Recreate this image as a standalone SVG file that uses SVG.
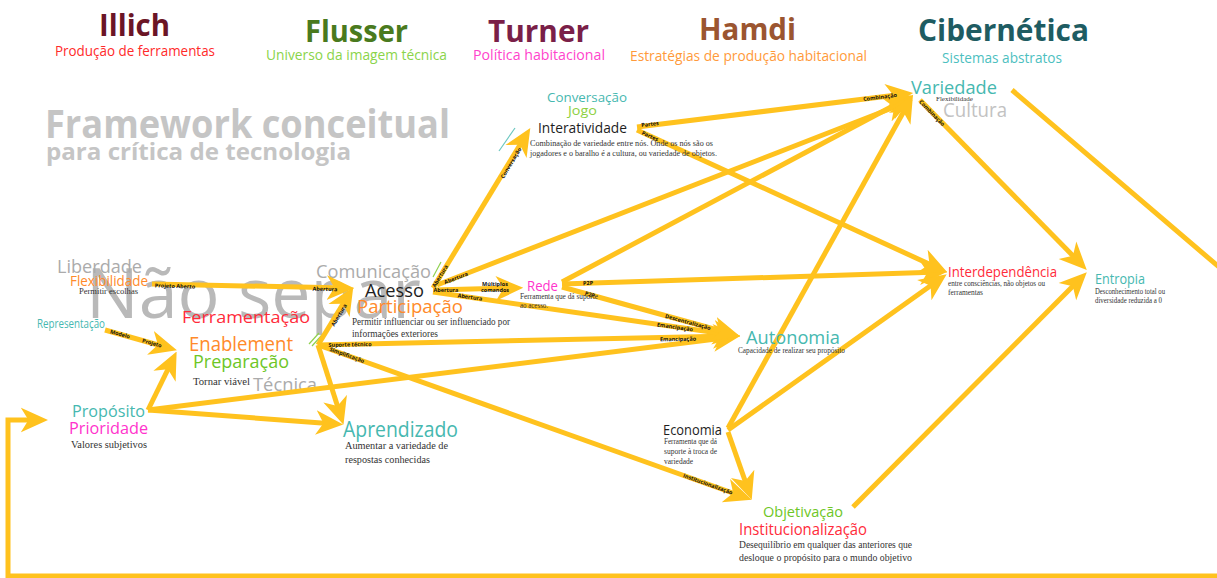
<svg xmlns="http://www.w3.org/2000/svg" width="1217" height="578" viewBox="0 0 1217 578">
  <style>
    .h { font-family: "Open Sans", "Noto Sans", sans-serif; font-weight: 700; font-size: 30px; }
    .s { font-family: "Open Sans", "Noto Sans", sans-serif; font-size: 14px; }
    .n { font-family: "Open Sans", "Noto Sans", sans-serif; }
    .d { font-family: "Liberation Serif", serif; fill: #333; }
    .g { fill: #ababab; }
    .teal { fill: #46b8b0; }
    .orange { fill: #ff8a2a; }
    .red { fill: #ff2b3a; }
    .green { fill: #6ec626; }
    .magenta { fill: #ff33cc; }
    .black { fill: #1e1e1e; }
    .c { stroke: #ffc21e; stroke-width: 5; fill: none; marker-end: url(#ah); }
    .lb { font-family: "Open Sans", "Noto Sans", sans-serif; font-weight: 700; font-size: 5.5px; fill: #111; text-anchor: middle; dominant-baseline: central; }
  </style>
  <defs>
    <marker id="ah" viewBox="0 0 10 10" refX="7" refY="5" markerWidth="5.5" markerHeight="5.5" orient="auto" markerUnits="strokeWidth">
      <path d="M0,0.5 L10,5 L0,9.5 L2.8,5 Z" fill="#ffc21e"/>
    </marker>
  </defs>
  <rect width="1217" height="578" fill="#ffffff"/>

  <!-- column headings -->
  <g id="headings">
    <text class="h" x="99" y="36" textLength="71" lengthAdjust="spacingAndGlyphs" fill="#6b1526">Illich</text>
    <text class="s" x="55" y="56" textLength="160" lengthAdjust="spacingAndGlyphs" fill="#ff2a2a">Produção de ferramentas</text>
    <text class="h" x="305" y="42" textLength="103" lengthAdjust="spacingAndGlyphs" fill="#4a7a1e">Flusser</text>
    <text class="s" x="266" y="60" textLength="181" lengthAdjust="spacingAndGlyphs" fill="#8ad44a">Universo da imagem técnica</text>
    <text class="h" x="488" y="42" textLength="101" lengthAdjust="spacingAndGlyphs" fill="#7a1f48">Turner</text>
    <text class="s" x="473" y="60" textLength="132" lengthAdjust="spacingAndGlyphs" fill="#ff44cc">Política habitacional</text>
    <text class="h" x="699" y="40" textLength="97" lengthAdjust="spacingAndGlyphs" fill="#9b5530">Hamdi</text>
    <text class="s" x="630" y="61" textLength="237" lengthAdjust="spacingAndGlyphs" fill="#ff9a3a">Estratégias de produção habitacional</text>
    <text class="h" x="918" y="41" textLength="171" lengthAdjust="spacingAndGlyphs" fill="#1e5c62">Cibernética</text>
    <text class="s" x="942" y="63" textLength="120" lengthAdjust="spacingAndGlyphs" fill="#4dbfbf">Sistemas abstratos</text>
  </g>

  <!-- title -->
  <g id="title" fill="#c5c5c5">
    <text class="n" x="45" y="138" font-size="40" font-weight="700" textLength="405" lengthAdjust="spacingAndGlyphs">Framework conceitual</text>
    <text class="n" x="46" y="160" font-size="24" font-weight="700" textLength="305" lengthAdjust="spacingAndGlyphs">para crítica de tecnologia</text>
  </g>

  <!-- background words -->
  <g id="background-words">
    <text class="n" x="86" y="318" font-size="70" fill="#adadad" opacity="0.85">Não separ</text>
    <text class="n g" x="57" y="273" font-size="18.5" textLength="85" lengthAdjust="spacingAndGlyphs">Liberdade</text>
    <text class="n g" x="316" y="278" font-size="18" textLength="115" lengthAdjust="spacingAndGlyphs">Comunicação</text>
    <text class="n g" x="253" y="391" font-size="19" textLength="64" lengthAdjust="spacingAndGlyphs">Técnica</text>
    <text class="n" x="943" y="117" font-size="20" fill="#c2c2c2" textLength="64" lengthAdjust="spacingAndGlyphs">Cultura</text>
  </g>

  <!-- small accent strokes -->
  <g id="accents" fill="none" stroke-width="1.2">
    <line x1="433" y1="277" x2="441" y2="262" stroke="#8fd14f"/>
    <line x1="309" y1="344" x2="319" y2="333" stroke="#8fd14f"/>
    <line x1="312" y1="346" x2="322" y2="335" stroke="#8fd14f"/>
    <line x1="499" y1="151" x2="515" y2="128" stroke="#6cc7c0"/>
  </g>

  <!-- connectors -->
  <g id="connectors">
    <path class="c" d="M152,284 L346,288"/>
    <path class="c" d="M105,330 L169,348"/>
    <path class="c" d="M148,410 L173,359"/>
    <path class="c" d="M148,410 L335,424"/>
    <path class="c" d="M148,410 L732,337"/>
    <path class="c" d="M318,345 L349,294"/>
    <path class="c" d="M318,345 L732,336"/>
    <path class="c" d="M318,345 L744,497"/>
    <path class="c" d="M318,345 L341,417"/>
    <path class="c" d="M433,288 L526,135"/>
    <path class="c" d="M437,285 L905,103"/>
    <path class="c" d="M433,290 L515,288"/>
    <path class="c" d="M433,292 L732,335"/>
    <path class="c" d="M562,282 L906,99"/>
    <path class="c" d="M562,284 L939,272"/>
    <path class="c" d="M562,287 L732,334"/>
    <path class="c" d="M637,127 L905,94"/>
    <path class="c" d="M637,130 L940,269"/>
    <path class="c" d="M728,428 L909,102"/>
    <path class="c" d="M728,430 L940,279"/>
    <path class="c" d="M728,432 L749,492"/>
    <path class="c" d="M853,507 L1081,278"/>
    <path class="c" d="M920,100 L1081,264"/>
    <path class="c" stroke-width="4.5" d="M1012,90 L1240,285 L1240,576 L8,576 L8,420 L40,420"/>

    <text class="lb" transform="translate(175,286) rotate(1.7)">Projeto Aberto</text>
    <text class="lb" transform="translate(325,289) rotate(1.7)">Abertura</text>
    <text class="lb" transform="translate(120,334) rotate(15.5)">Modelo</text>
    <text class="lb" transform="translate(152,343) rotate(15.5)">Projeto</text>
    <text class="lb" transform="translate(339,315) rotate(-58.9)">Abertura</text>
    <text class="lb" transform="translate(350,344.5) rotate(-1)">Suporte técnico</text>
    <text class="lb" transform="translate(347,355) rotate(19.7)">Simplificação</text>
    <text class="lb" transform="translate(440,276) rotate(-58.8)">Abertura</text>
    <text class="lb" transform="translate(456,278) rotate(-21)">Abertura</text>
    <text class="lb" transform="translate(446,289.5)">Abertura</text>
    <text class="lb" transform="translate(495,284)">Múltiplos</text>
    <text class="lb" transform="translate(495,290)">comandos</text>
    <text class="lb" transform="translate(470,297) rotate(8.2)">Abertura</text>
    <text class="lb" transform="translate(511,163) rotate(-58.8)">Conversação</text>
    <text class="lb" transform="translate(588,283) rotate(-2)">P2P</text>
    <text class="lb" transform="translate(590,294.5) rotate(15.4)">P2P</text>
    <text class="lb" transform="translate(688,322) rotate(15.4)">Descentralização</text>
    <text class="lb" transform="translate(675,327) rotate(8.2)">Emancipação</text>
    <text class="lb" transform="translate(678,339) rotate(-1)">Emancipação</text>
    <text class="lb" transform="translate(650,124) rotate(-7)">Partes</text>
    <text class="lb" transform="translate(650,136) rotate(24.6)">Partes</text>
    <text class="lb" transform="translate(880,97) rotate(-7)">Combinação</text>
    <text class="lb" transform="translate(932,113) rotate(45.5)">Combinação</text>
    <text class="lb" transform="translate(708,484) rotate(19.7)">Institucionalização</text>
  </g>

  <!-- nodes -->
  <g id="node-flexibilidade">
    <text class="n orange" x="70" y="286" font-size="15" textLength="78" lengthAdjust="spacingAndGlyphs">Flexibilidade</text>
    <text class="d" x="79" y="294" font-size="9" textLength="59" lengthAdjust="spacingAndGlyphs">Permitir escolhas</text>
  </g>
  <g id="node-representacao">
    <text class="n teal" x="37" y="328" font-size="12.5" textLength="68" lengthAdjust="spacingAndGlyphs">Representação</text>
  </g>
  <g id="node-ferramentacao">
    <text class="n red" x="182" y="323" font-size="17" textLength="128" lengthAdjust="spacingAndGlyphs">Ferramentação</text>
    <text class="n orange" x="189" y="351" font-size="20" textLength="104" lengthAdjust="spacingAndGlyphs">Enablement</text>
    <text class="n green" x="193" y="368" font-size="18" textLength="96" lengthAdjust="spacingAndGlyphs">Preparação</text>
    <text class="d" x="193" y="385" font-size="11" textLength="57" lengthAdjust="spacingAndGlyphs">Tornar viável</text>
  </g>
  <g id="node-proposito">
    <text class="n teal" x="72" y="417" font-size="17" textLength="73" lengthAdjust="spacingAndGlyphs">Propósito</text>
    <text class="n magenta" x="69" y="434" font-size="17" textLength="79" lengthAdjust="spacingAndGlyphs">Prioridade</text>
    <text class="d" x="71" y="448" font-size="10" textLength="76" lengthAdjust="spacingAndGlyphs">Valores subjetivos</text>
  </g>
  <g id="node-acesso">
    <text class="n black" x="365" y="297" font-size="19" textLength="59" lengthAdjust="spacingAndGlyphs">Acesso</text>
    <text class="n orange" x="357" y="313" font-size="19" textLength="106" lengthAdjust="spacingAndGlyphs">Participação</text>
    <text class="d" x="352" y="325" font-size="11" textLength="158" lengthAdjust="spacingAndGlyphs">Permitir influenciar ou ser influenciado por</text>
    <text class="d" x="352" y="337" font-size="11" textLength="86" lengthAdjust="spacingAndGlyphs">informações exteriores</text>
  </g>
  <g id="node-rede">
    <text class="n magenta" x="527" y="291" font-size="14" textLength="31" lengthAdjust="spacingAndGlyphs">Rede</text>
    <text class="d" x="520" y="299" font-size="8" textLength="78" lengthAdjust="spacingAndGlyphs">Ferramenta que dá suporte</text>
    <text class="d" x="520" y="308" font-size="8" textLength="28" lengthAdjust="spacingAndGlyphs">ao acesso.</text>
  </g>
  <g id="node-interatividade">
    <text class="n teal" x="547" y="102" font-size="13" textLength="80" lengthAdjust="spacingAndGlyphs">Conversação</text>
    <text class="n" x="568" y="115" font-size="13" fill="#8cd040" textLength="29" lengthAdjust="spacingAndGlyphs">Jogo</text>
    <text class="n black" x="538" y="133" font-size="14.5" textLength="89" lengthAdjust="spacingAndGlyphs">Interatividade</text>
    <text class="d" x="530" y="146" font-size="8.5" textLength="183" lengthAdjust="spacingAndGlyphs">Combinação de variedade entre nós. Onde os nós são os</text>
    <text class="d" x="530" y="156" font-size="8.5" textLength="187" lengthAdjust="spacingAndGlyphs">jogadores e o baralho é a cultura, ou variedade de objetos.</text>
  </g>
  <g id="node-autonomia">
    <text class="n teal" x="746" y="344" font-size="19" textLength="94" lengthAdjust="spacingAndGlyphs">Autonomia</text>
    <text class="d" x="738" y="353" font-size="8" textLength="107" lengthAdjust="spacingAndGlyphs">Capacidade de realizar seu propósito</text>
  </g>
  <g id="node-aprendizado">
    <text class="n teal" x="343" y="437" font-size="21" textLength="115" lengthAdjust="spacingAndGlyphs">Aprendizado</text>
    <text class="d" x="345" y="449" font-size="10" textLength="103" lengthAdjust="spacingAndGlyphs">Aumentar a variedade de</text>
    <text class="d" x="345" y="463" font-size="10" textLength="85" lengthAdjust="spacingAndGlyphs">respostas conhecidas</text>
  </g>
  <g id="node-economia">
    <text class="n black" x="663" y="435" font-size="14" textLength="59" lengthAdjust="spacingAndGlyphs">Economia</text>
    <text class="d" x="664" y="444" font-size="8" textLength="53" lengthAdjust="spacingAndGlyphs">Ferramenta que dá</text>
    <text class="d" x="664" y="454" font-size="8" textLength="53" lengthAdjust="spacingAndGlyphs">suporte à troca de</text>
    <text class="d" x="664" y="464" font-size="8" textLength="29" lengthAdjust="spacingAndGlyphs">variedade</text>
  </g>
  <g id="node-objetivacao">
    <text class="n green" x="763" y="517" font-size="15" textLength="80" lengthAdjust="spacingAndGlyphs">Objetivação</text>
    <text class="n red" x="739" y="535" font-size="16" textLength="128" lengthAdjust="spacingAndGlyphs">Institucionalização</text>
    <text class="d" x="739" y="548" font-size="10.5" textLength="173" lengthAdjust="spacingAndGlyphs">Desequilíbrio em qualquer das anteriores que</text>
    <text class="d" x="739" y="561" font-size="10.5" textLength="173" lengthAdjust="spacingAndGlyphs">desloque o  propósito para o mundo objetivo</text>
  </g>
  <g id="node-variedade">
    <text class="n teal" x="911" y="94" font-size="19" textLength="86" lengthAdjust="spacingAndGlyphs">Variedade</text>
    <text class="d" x="936" y="101" font-size="7" textLength="37" lengthAdjust="spacingAndGlyphs">Flexibilidade</text>
  </g>
  <g id="node-interdependencia">
    <text class="n red" x="948" y="277" font-size="15" textLength="109" lengthAdjust="spacingAndGlyphs">Interdependência</text>
    <text class="d" x="948" y="286" font-size="7.5" textLength="97" lengthAdjust="spacingAndGlyphs">entre consciências, não objetos ou</text>
    <text class="d" x="948" y="295" font-size="7.5" textLength="35" lengthAdjust="spacingAndGlyphs">ferramentas</text>
  </g>
  <g id="node-entropia">
    <text class="n teal" x="1095" y="284" font-size="15" textLength="50" lengthAdjust="spacingAndGlyphs">Entropia</text>
    <text class="d" x="1095" y="294" font-size="7.5" textLength="70" lengthAdjust="spacingAndGlyphs">Desconhecimento total ou</text>
    <text class="d" x="1095" y="303" font-size="7.5" textLength="67" lengthAdjust="spacingAndGlyphs">diversidade reduzida a 0</text>
  </g>
</svg>
